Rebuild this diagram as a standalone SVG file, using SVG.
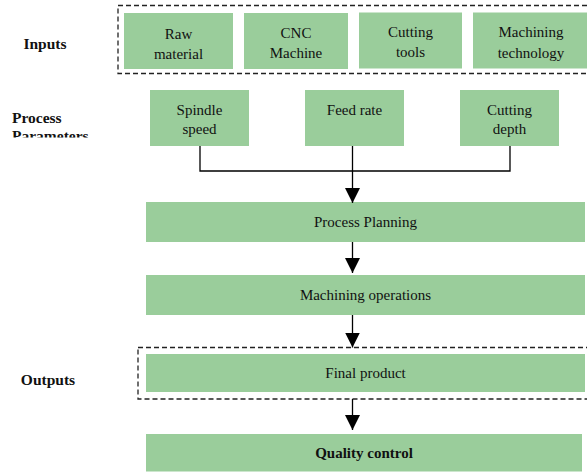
<svg xmlns="http://www.w3.org/2000/svg" width="587" height="473" viewBox="0 0 587 473">
<defs>
<style>
.box{fill:#9acd9b;}
.dash{fill:none;stroke:#222;stroke-width:1.3;stroke-dasharray:5,3;}
.t{font-family:"Liberation Serif","Times New Roman",serif;font-size:15px;fill:#111;text-anchor:middle;}
.b{font-family:"Liberation Serif","Times New Roman",serif;font-size:15.5px;font-weight:bold;fill:#111;}
.ln{fill:none;stroke:#000;stroke-width:1.3;}
</style>
<marker id="ah" markerUnits="userSpaceOnUse" markerWidth="16" markerHeight="16" refX="15" refY="7.5" orient="auto">
<path d="M0,0 L15,7.5 L0,15 Z" fill="#000"/>
</marker>
<clipPath id="clipPar"><rect x="0" y="0" width="140" height="137.5"/></clipPath>
</defs>
<rect width="587" height="473" fill="#fff"/>

<g id="labels">
<text class="b" x="45" y="49" text-anchor="middle">Inputs</text>
<g clip-path="url(#clipPar)">
<text class="b" x="12" y="122.5">Process</text>
<text class="b" x="12" y="141">Parameters</text>
</g>
<text class="b" x="48" y="385" text-anchor="middle">Outputs</text>
</g>

<g id="inputs-group">
<rect class="dash" x="118" y="5.5" width="480" height="68"/>
</g>
<g id="raw-material">
<rect class="box" x="124" y="13" width="109" height="56"/>
<text class="t" x="178.5" y="38.5">Raw</text>
<text class="t" x="178.5" y="59">material</text>
</g>
<g id="cnc-machine">
<rect class="box" x="244" y="13" width="104" height="56"/>
<text class="t" x="296" y="38">CNC</text>
<text class="t" x="296" y="58">Machine</text>
</g>
<g id="cutting-tools">
<rect class="box" x="359" y="12.5" width="103" height="56"/>
<text class="t" x="410.5" y="37">Cutting</text>
<text class="t" x="410.5" y="57">tools</text>
</g>
<g id="machining-technology">
<rect class="box" x="473" y="12.5" width="116" height="56"/>
<text class="t" x="531" y="37">Machining</text>
<text class="t" x="531" y="57.5">technology</text>
</g>

<g id="spindle-speed">
<rect class="box" x="150" y="90" width="99" height="56"/>
<text class="t" x="199.5" y="114.5">Spindle</text>
<text class="t" x="199.5" y="133.5">speed</text>
</g>
<g id="feed-rate">
<rect class="box" x="305" y="90" width="99" height="56"/>
<text class="t" x="354.5" y="114.5">Feed rate</text>
</g>
<g id="cutting-depth">
<rect class="box" x="460" y="90" width="99" height="56"/>
<text class="t" x="509.5" y="114.5">Cutting</text>
<text class="t" x="509.5" y="133.5">depth</text>
</g>

<g id="process-planning">
<rect class="box" x="146" y="202" width="439" height="40"/>
<text class="t" x="365.5" y="227">Process Planning</text>
</g>
<g id="machining-operations">
<rect class="box" x="146" y="275" width="439" height="40"/>
<text class="t" x="365.5" y="300">Machining operations</text>
</g>
<g id="outputs-group">
<rect class="dash" x="138" y="347.5" width="460" height="51.5"/>
</g>
<g id="final-product">
<rect class="box" x="146" y="354" width="439" height="38"/>
<text class="t" x="365.5" y="378">Final product</text>
</g>
<g id="quality-control">
<rect class="box" x="146" y="434" width="436" height="37.5"/>
<text class="t" x="364" y="457.5" font-weight="bold">Quality control</text>
</g>

<g id="connectors">
<polyline class="ln" points="200,146 200,171 510,171 510,146"/>
<line class="ln" x1="352.5" y1="146" x2="352.5" y2="203" marker-end="url(#ah)"/>
<line class="ln" x1="352.5" y1="242" x2="352.5" y2="273" marker-end="url(#ah)"/>
<line class="ln" x1="352.5" y1="315" x2="352.5" y2="347.5" marker-end="url(#ah)"/>
<line class="ln" x1="352.5" y1="399" x2="352.5" y2="430" marker-end="url(#ah)"/>
</g>
</svg>
